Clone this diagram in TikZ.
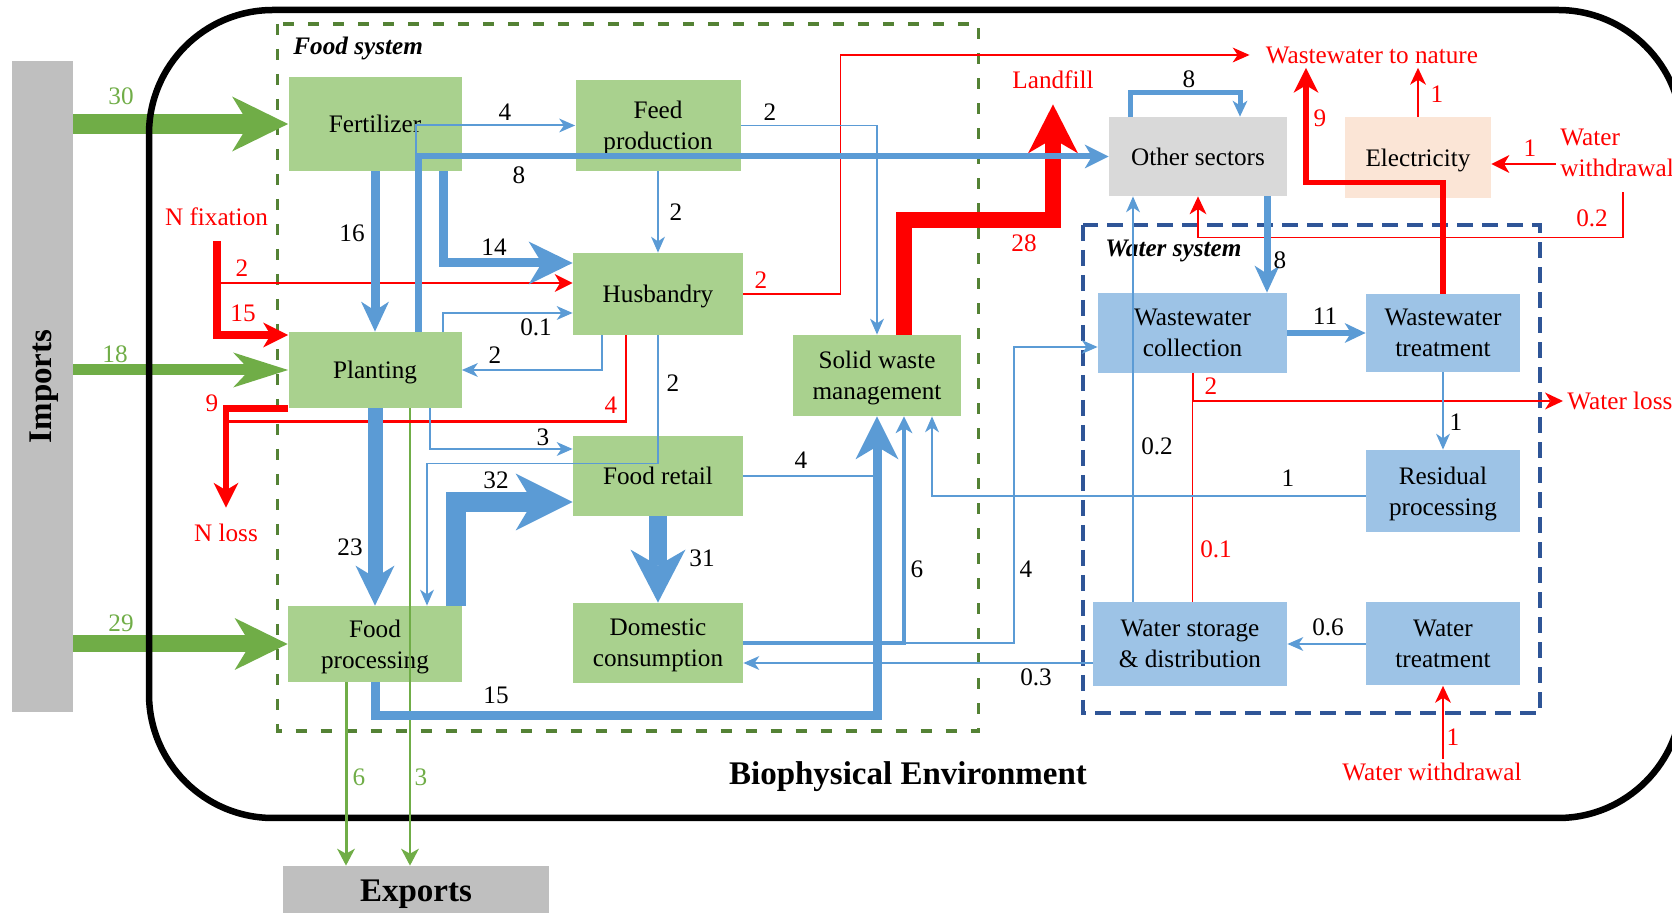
\documentclass[tikz,border=0pt]{standalone}
\usepackage{fontspec}
\setmainfont{Liberation Serif}
\usetikzlibrary{arrows.meta,positioning,calc}

\definecolor{flowblue}{RGB}{91,155,213}
\definecolor{flowgreen}{RGB}{112,173,71}
\definecolor{boxgreen}{RGB}{169,209,142}
\definecolor{boxblue}{RGB}{157,195,230}
\definecolor{boxgray}{RGB}{217,217,217}
\definecolor{bargray}{RGB}{191,191,191}
\definecolor{boxpeach}{RGB}{251,229,214}
\definecolor{fsysgreen}{RGB}{84,130,53}
\definecolor{wsysblue}{RGB}{47,85,151}

\newcommand{\boxfont}{\fontsize{12.6}{15.5}\selectfont}
\newcommand{\bigfont}{\fontsize{16.5}{19}\selectfont\bfseries}

\tikzset{
  fbox/.style={rectangle, fill=boxgreen, inner sep=0pt, align=center, font=\boxfont, text depth=0pt},
  wbox/.style={fbox, fill=boxblue},
  num/.style={font=\boxfont, inner sep=1pt},
  rnum/.style={num, text=red},
  gnum/.style={num, text=flowgreen},
  rtext/.style={font=\boxfont, text=red, inner sep=2pt},
  ftip/.style 2 args={-{Stealth[length=#1pt, width=#2pt, inset'=0pt 0.3, line width=0pt]}},
  bflow/.style={draw=flowblue},
  rflow/.style={draw=red},
  gflow/.style={draw=flowgreen},
  fsysbox/.style={draw=fsysgreen, dash pattern=on 5.5pt off 7pt, line width=1.75pt},
  wsysbox/.style={draw=wsysblue, dash pattern=on 8pt off 4.5pt, line width=2pt},
}

\begin{document}
\begin{tikzpicture}[x=0.5pt, y=-0.5pt]
    \useasboundingbox (0,0) rectangle (1672,913);

    % Systems
    \draw[fsysbox] (277.5,24) rectangle (978.5,731);
    \draw[wsysbox] (1083,225) rectangle (1540,713);
    \node[font=\boxfont\bfseries\itshape, anchor=west, inner sep=0pt] (fsys) at (293,48) {Food system};
    \node[font=\boxfont\bfseries\itshape, anchor=west, inner sep=0pt] (wsys) at (1105,251) {Water system};
    \node[font=\bigfont] (bioenv) at (908,777) {Biophysical Environment};

    % Imports and exports
    \node[fill=bargray, minimum width=30.5pt, minimum height=325.5pt, inner sep=0pt] (imports) at (42.5,386.5) {};
    \node[rotate=90, font=\bigfont] (importslbl) at (44,386.5) {Imports};
    \node[fill=bargray, minimum width=133pt, minimum height=28pt, inner sep=0pt, font=\bigfont] (exports) at (416,894) {Exports};

    % Food system
    \node[fbox, minimum width=86.5pt, minimum height=47pt] (fert) at (375,124) {Fertilizer};
    \node[fbox, minimum width=82.5pt, minimum height=45.5pt] (feed) at (658,125.5) {Feed\\production};
    \node[fbox, minimum width=85pt, minimum height=41pt] (husb) at (658,294) {Husbandry};
    \node[fbox, minimum width=86.5pt, minimum height=38pt] (plant) at (375,370) {Planting};
    \node[fbox, minimum width=85pt, minimum height=40pt] (retail) at (658,476) {Food retail};
    \node[fbox, minimum width=87pt, minimum height=38pt] (proc) at (375,644) {Food\\processing};
    \node[fbox, minimum width=85pt, minimum height=40pt] (dom) at (658,643) {Domestic\\consumption};
    \node[fbox, minimum width=84pt, minimum height=40.5pt] (swm) at (877,375.5) {Solid waste\\management};

    % Other sectors, electricity
    \node[fbox, fill=boxgray, minimum width=89pt, minimum height=39.5pt] (other) at (1198,156.5) {Other sectors};
    \node[fbox, fill=boxpeach, minimum width=73pt, minimum height=40.5pt] (elec) at (1418,157.5) {Electricity};

    % Water system
    \node[wbox, minimum width=94.5pt, minimum height=40pt] (wwc) at (1192.5,333) {Wastewater\\collection};
    \node[wbox, minimum width=77pt, minimum height=39pt] (wwt) at (1443,333) {Wastewater\\treatment};
    \node[wbox, minimum width=77pt, minimum height=41pt] (resid) at (1443,491) {Residual\\processing};
    \node[wbox, minimum width=97pt, minimum height=42pt] (wsd) at (1190,644) {Water storage\\\& distribution};
    \node[wbox, minimum width=77pt, minimum height=41.5pt] (wtr) at (1443,644) {Water\\treatment};

    % Sources and sinks
    \node[rtext] (nfix) at (216.5,217) {N fixation};
    \node[rtext] (nloss) at (226,533) {N loss};
    \node[rtext] (landfill) at (1053,80) {Landfill};
    \node[rtext] (wwnat) at (1372,55) {Wastewater to nature};
    \node[rtext, anchor=west] (wloss) at (1563,401) {Water loss};
    \node[rtext, anchor=west, align=left] (wwdr1) at (1556,153) {Water\\withdrawal};
    \node[rtext] (wwdr2) at (1432,772) {Water withdrawal};

    % Import flows
    \draw[gflow, line width=10pt, ftip={28}{27.5}] (imports.east |- fert.west) -- (fert.west);
    \draw[gflow, line width=5.5pt, ftip={27.5}{17.5}] (imports.east |- plant.west) -- (plant.west);
    \draw[gflow, line width=8.5pt, ftip={26.5}{26}] (imports.east |- proc.west) -- (proc.west);

    % Boundary
    \draw[line width=3.25pt, rounded corners=62pt] (149,10) rectangle (1682,818);

    % Export flows
    \draw[gflow, line width=1.5pt, ftip={8.5}{9}] ($(proc.south)+(-29,0)$) coordinate (ex6) -- (ex6 |- exports.north);
    \draw[gflow, line width=0.75pt, ftip={8.5}{9}] ($(plant.south)+(35,0)$) coordinate (ex3) -- (ex3 |- exports.north);

    % Nitrogen and waste flows
    \coordinate (nf) at ($(nfix.south)+(0,11)$);
    \coordinate (h2) at ($(husb.west)+(0,-11)$);
    \draw[rflow, line width=4pt, ftip={12.5}{12.5}] (nf) |- ($(plant.west)+(0,-35)$);
    \draw[rflow, line width=0.75pt, ftip={9}{9}] (h2 -| nf) -- (h2);
    \draw[rflow, line width=3.25pt, ftip={12.5}{12.5}, shorten >=6pt] (plant.south west) -| (nloss.north);
    \draw[rflow, line width=1.25pt] ($(husb.south)+(-32,0)$) -- ++(0,86) coordinate (h4) -- (h4 -| nloss.north);
    \draw[rflow, line width=0.75pt, ftip={8.5}{7.5}, shorten >=6pt] (husb.east) -- ++(97,0) |- (wwnat.west);
    \draw[rflow, line width=8pt, ftip={24.5}{25}, shorten >=5.5pt] ($(swm.north)+(27,0)$) -- ++(0,-115) -| (landfill.south);
    \draw[rflow, line width=2.75pt, ftip={12.5}{12.5}] (wwt.north) -- ++(0,-111) -| ($(wwnat.south)+(-66,0)$);
    \draw[rflow, line width=0.75pt, ftip={8.5}{8}] (elec.north) -- (elec.north |- wwnat.south);
    \draw[rflow, line width=0.75pt, ftip={9}{9}] ($(wwdr1.west)+(0,11)$) coordinate (ww1) -- (ww1 -| elec.east);
    \draw[rflow, line width=0.75pt, ftip={9}{8.5}] ($(wwdr1.south)+(6,11)$) -- ++(0,45) -| (other.south);
    \draw[rflow, line width=1pt, ftip={9}{8.5}] (wwc.south) |- (wloss.west);
    \draw[rflow, line width=0.6pt] (wsd.north -| wwc.south) -- (wwc.south |- wloss.west);
    \draw[rflow, line width=0.75pt, ftip={8.5}{8}] (wtr.south |- wwdr2.north) -- (wtr.south);

    % Food flows
    \draw[bflow, line width=4.5pt, ftip={15}{14}] (fert.south) -- (plant.north);
    \draw[bflow, line width=4.5pt, ftip={22}{21.5}] ($(fert.south)+(68,0)$) |- ($(husb.west)+(0,-31)$);
    \draw[bflow, line width=1pt, ftip={8}{7}] ($(plant.north)+(41,0)$) |- (feed.west);
    \draw[bflow, line width=3pt, ftip={12}{12}] ($(plant.north)+(44,0)$) |- (other.west);
    \draw[bflow, line width=0.75pt, ftip={8}{7}] (feed.east) -| (swm.north);
    \draw[bflow, line width=1pt, ftip={8}{7}] (feed.south) -- (husb.north);
    \draw[bflow, line width=0.6pt, ftip={8}{7}] ($(plant.north)+(68,0)$) |- ($(husb.west)+(0,19)$);
    \draw[bflow, line width=0.75pt, ftip={8}{7}] ($(husb.south)+(-56,0)$) |- (plant.east);
    \draw[bflow, line width=0.75pt, ftip={8}{7}] ($(plant.south)+(55,0)$) |- ($(retail.west)+(0,-27)$);
    \draw[bflow, line width=0.75pt, ftip={8}{7}] (husb.south) -- ++(0,128) -| ($(proc.north)+(52,0)$);
    \draw[bflow, line width=10pt, ftip={28.5}{28.5}] ($(proc.north)+(81,0)$) |- ($(retail.west)+(0,26)$);
    \draw[bflow, line width=7.5pt, ftip={20}{19.5}] (plant.south) -- (proc.north);
    \draw[bflow, line width=9pt, ftip={26.5}{27.5}] (retail.south) -- (dom.north);
    \draw[bflow, line width=4.5pt, ftip={21.5}{21.5}] (proc.south) -- ++(0,33) -| (swm.south);
    \draw[bflow, line width=1pt] (retail.east) -- (retail.east -| swm.south);
    \draw[bflow, line width=2pt, ftip={8.5}{8.5}] (dom.east) -| ($(swm.south)+(27,0)$);
    \draw[bflow, line width=1pt, ftip={8}{7}] (dom.east) -- ++(271,0) |- ($(wwc.west)+(0,14)$);
    \draw[bflow, line width=0.75pt, ftip={8}{7}] ($(wsd.west)+(0,19)$) coordinate (w03) -- (w03 -| dom.east);
    \draw[bflow, line width=0.6pt, ftip={8}{7}] ($(resid.west)+(0,5)$) -| ($(swm.south)+(55,0)$);

    % Water flows
    \draw[bflow, line width=2.5pt, ftip={8}{7.5}] ($(other.north)+(-68,0)$) -- ++(0,-24) -| ($(other.north)+(42,0)$);
    \draw[bflow, line width=3.5pt, ftip={13.5}{12.5}] ($(other.south)+(69,0)$) coordinate (o8) -- (o8 |- wwc.north);
    \draw[bflow, line width=3pt, ftip={10.5}{10}] (wwc.east) -- (wwt.west);
    \draw[bflow, line width=0.75pt, ftip={8}{7}] (wwt.south) -- (resid.north);
    \draw[bflow, line width=0.75pt, ftip={8}{7}] (wtr.west) -- (wsd.east);
    \draw[bflow, line width=0.6pt, ftip={8}{7}] ($(wsd.north)+(-57,0)$) coordinate (s02) -- (s02 |- other.south);

    % Flow values
    \foreach \nm/\x/\y/\txt in {b1/505/112/4, b2/519/175/8, b3/770/112/2, b4/676/212/2, b5/352/233/16,
        b6/494/247/14, b7/536/327/0.1, b8/495/355/2, b9/673/383/2, b10/543/437/3, b11/496/480/32,
        b12/801/460/4, b13/350/547/23, b14/702/558/31, b15/917/569/6, b16/1026/569/4, b17/496/695/15,
        b18/1036/677/0.3, b19/1189/79/8, b20/1280/260/8, b21/1325/316/11, b22/1456/422/1,
        b23/1157/446/0.2, b24/1288/478/1, b25/1328/627/0.6}
        \node[num] (\nm) at (\x,\y) {\txt};
    \foreach \nm/\x/\y/\txt in {r1/242/268/2, r2/243/313/15, r3/212/403/9, r4/611/405/4, r5/761/280/2,
        r6/1024/243/28, r7/1320/118/9, r8/1437/94/1, r9/1530/148/1, r10/1592/218/0.2,
        r11/1211/386/2, r12/1216/549/0.1, r13/1453/737/1}
        \node[rnum] (\nm) at (\x,\y) {\txt};
    \foreach \nm/\x/\y/\txt in {g1/121/96/30, g2/115/354/18, g3/121/623/29, g4/359/777/6, g5/421/777/3}
        \node[gnum] (\nm) at (\x,\y) {\txt};
\end{tikzpicture}
\end{document}
